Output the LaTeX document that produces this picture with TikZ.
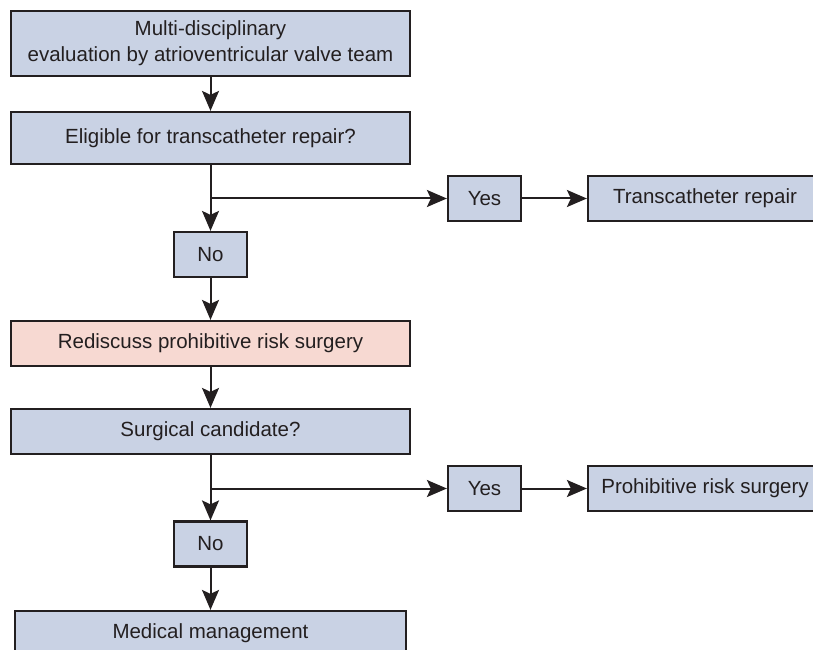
\documentclass[tikz,border=0pt]{standalone}
\usepackage{fontspec}
\setmainfont{Liberation Sans}
\usetikzlibrary{arrows.meta}
\definecolor{boxblue}{RGB}{201,210,228}
\definecolor{boxpink}{RGB}{247,217,210}
\definecolor{ink}{RGB}{35,31,32}
\begin{document}
\begin{tikzpicture}[x=1pt,y=1pt,
    flowbox/.style={draw=ink,line width=2.2pt,fill=boxblue,text=ink,inner sep=0pt,
      font=\fontsize{20.5}{26}\selectfont,align=center},
    widebox/.style={flowbox,minimum width=399pt,minimum height=45pt},
    answerbox/.style={flowbox,minimum width=73pt,minimum height=45pt},
    resultbox/.style={flowbox,minimum width=234pt,minimum height=45pt},
    flowarrow/.style={draw=ink,line width=2pt,-{Stealth[length=20pt,width=17pt,inset=4pt]}}]
  \useasboundingbox (0,0) rectangle (813,649);

  % main column
  \def\midX{210.5}
  \node[widebox,minimum height=65pt] (eval) at (\midX,605.5) {Multi-disciplinary\\evaluation by atrioventricular valve team};
  \node[widebox,minimum height=52pt] (elig) at (\midX,511) {Eligible for transcatheter repair?};
  \node[answerbox] (noA) at (\midX,394.5) {No};
  \node[widebox,fill=boxpink] (redisc) at (\midX,305.5) {Rediscuss prohibitive risk surgery};
  \node[widebox] (surg) at (\midX,217.5) {Surgical candidate?};
  \node[answerbox] (noB) at (\midX,105) {No};
  \node[widebox,minimum width=391pt] (med) at (\midX,15.5) {Medical management};

  % right branches
  \def\yesX{484.5}
  \def\resX{705}
  \node[answerbox] (yesA) at (\yesX,450.5) {Yes};
  \node[resultbox] (trans) at (\resX,450.5) {Transcatheter repair};
  \node[answerbox] (yesB) at (\yesX,160.5) {Yes};
  \node[resultbox] (prohib) at (\resX,160.5) {Prohibitive risk surgery};
  \coordinate (splitA) at (\midX,450.5);% branch to first yes
  \coordinate (splitB) at (\midX,160.5);% branch to second yes

  \draw[flowarrow] (eval) -- (elig);
  \draw[flowarrow] (elig) -- (noA);
  \draw[flowarrow] (splitA) -- (yesA);
  \draw[flowarrow] (yesA) -- (trans);
  \draw[flowarrow] (noA) -- (redisc);
  \draw[flowarrow] (redisc) -- (surg);
  \draw[flowarrow] (surg) -- (noB);
  \draw[flowarrow] (splitB) -- (yesB);
  \draw[flowarrow] (yesB) -- (prohib);
  \draw[flowarrow] (noB) -- (med);
\end{tikzpicture}
\end{document}
